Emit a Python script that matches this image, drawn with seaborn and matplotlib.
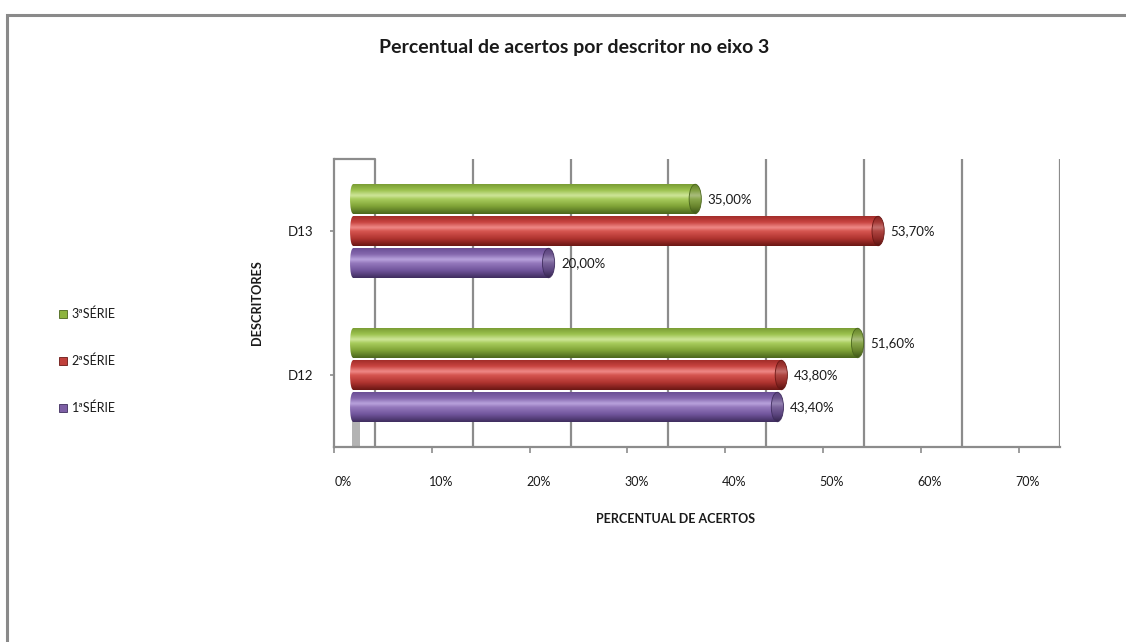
import numpy as np
import pandas as pd
import matplotlib
matplotlib.use("Agg")
import matplotlib.pyplot as plt
import seaborn as sns
from matplotlib.colors import LinearSegmentedColormap, to_rgb
from matplotlib.patches import Ellipse, Patch, Rectangle
from matplotlib.lines import Line2D
from matplotlib.transforms import blended_transform_factory, ScaledTranslation

# ---- data -------------------------------------------------------------
categories = ["D13", "D12"]
series = ["3ªSÉRIE", "2ªSÉRIE", "1ªSÉRIE"]
serie3 = [35.00, 51.60]
serie2 = [53.70, 43.80]
serie1 = [20.00, 43.40]
x_ticks = [0, 10, 20, 30, 40, 50, 60, 70]

title = "Percentual de acertos por descritor no eixo 3"
x_title = "PERCENTUAL DE ACERTOS"
y_title = "DESCRITORES"

# ---- styles -----------------------------------------------------------
base_colors = {"3ªSÉRIE": "#8db43e", "2ªSÉRIE": "#c0403b", "1ªSÉRIE": "#7d5fa5"}
edge_colors = {"3ªSÉRIE": "#4a661c", "2ªSÉRIE": "#6a1714", "1ªSÉRIE": "#3f2d5e"}
cyl_stops = {
    "3ªSÉRIE": ["#7a9d35", "#9cc24e", "#cfe69a", "#a8cc5c", "#7fa236", "#4a661c"],
    "2ªSÉRIE": ["#a22d2a", "#c84440", "#f08a88", "#d65550", "#b03430", "#6a1714"],
    "1ªSÉRIE": ["#6b4f95", "#8467ad", "#b9a3dd", "#9579bd", "#70549b", "#3f2d5e"],
}
stop_pos = [0.0, 0.2, 0.38, 0.5, 0.75, 1.0]
grid_col = "#8c8c8c"
text_col = "#1a1a1a"

# depth offsets of the front axis plane and back wall (in % units)
front = -1.94
back = 2.25

sns.set_style("white")
plt.rcParams["font.family"] = ["Lato", "DejaVu Sans"]

df = pd.DataFrame({
    "descritor": categories * 3,
    "percentual": serie3 + serie2 + serie1,
    "serie": [series[0]] * 2 + [series[1]] * 2 + [series[2]] * 2,
})

W, H = 1126, 642
fig = plt.figure(figsize=(W / 100, H / 100), dpi=100)
fig.patch.set_facecolor("white")
ax = fig.add_axes([334 / W, (H - 447) / H, 726 / W, 288 / H])

sns.barplot(data=df, y="descritor", x="percentual", hue="serie",
            order=categories, hue_order=series, palette=base_colors,
            orient="h", width=0.667, gap=0.08, saturation=1,
            errorbar=None, legend=False, ax=ax)


def cyl_cmap(name, scale=1.0):
    cols = [tuple(min(1, c * scale) for c in to_rgb(h)) for h in cyl_stops[name]]
    return LinearSegmentedColormap.from_list(name, list(zip(stop_pos, cols)))


cap_left = 0.6
cap_right = 1.25
for name, container in zip(series, ax.containers):
    grad = cyl_cmap(name)(np.linspace(0, 1, 96))[:, None, :]
    grad_dark = cyl_cmap(name, 0.82)(np.linspace(0, 1, 96))[:, None, :]
    for rect in container:
        x0, w = rect.get_x(), rect.get_width()
        y0, h = rect.get_y(), rect.get_height()
        yc = y0 + h / 2
        rect.set_edgecolor("none")
        rect.set_zorder(2)
        # body of the cylinder
        im = ax.imshow(grad, extent=(x0, x0 + w, y0 + h, y0), aspect="auto",
                       interpolation="bicubic", zorder=2)
        im.set_clip_path(rect)
        # rounded rear end
        el = Ellipse((x0, yc), cap_left, h, facecolor="none", edgecolor="none", zorder=1.9)
        ax.add_patch(el)
        im = ax.imshow(grad, extent=(x0 - cap_left / 2, x0 + cap_left / 2, y0 + h, y0),
                       aspect="auto", interpolation="bicubic", zorder=1.9)
        im.set_clip_path(el)
        # front cap
        er = Ellipse((x0 + w, yc), cap_right, h, facecolor="none",
                     edgecolor=edge_colors[name], lw=0.6, zorder=2.2)
        ax.add_patch(er)
        im = ax.imshow(grad_dark, extent=(x0 + w - cap_right / 2, x0 + w + cap_right / 2, y0 + h, y0),
                       aspect="auto", interpolation="bicubic", zorder=2.1)
        im.set_clip_path(er)
        # value label
        label = f"{w:.2f}".replace(".", ",") + "%"
        ax.annotate(label, xy=(x0 + w, yc), xytext=(9, 0), textcoords="offset points",
                    ha="left", va="center", fontsize=9.5, color=text_col)

# ---- walls, grid and axes --------------------------------------------
ax.set_xlim(front, 72.3)
ax.set_ylim(1.5, -0.5)
for t in x_ticks:
    ax.axvline(t + back, color=grid_col, lw=1.6, zorder=0.5)

blend = blended_transform_factory(ax.transData, ax.transAxes)
ax.plot([front, back], [1, 1], color=grid_col, lw=1.6, transform=blend, clip_on=False, zorder=0.5)
ax.add_patch(Rectangle((-0.1, 0), 0.8, 0.094, transform=blend, facecolor="#b3b3b3",
                       edgecolor="none", zorder=0.6))

for side in ["top", "right"]:
    ax.spines[side].set_visible(False)
for side in ["left", "bottom"]:
    ax.spines[side].set_color(grid_col)
    ax.spines[side].set_linewidth(1.6)

ax.set_xticks([t + front for t in x_ticks])
ax.set_xticklabels([f"{t}%" for t in x_ticks])
ax.tick_params(axis="x", bottom=True, length=4, width=1.2, color=grid_col, pad=17,
               labelsize=9, labelcolor=text_col)
ax.tick_params(axis="y", left=True, length=3, width=1.2, color=grid_col, pad=12,
               labelsize=9.5, labelcolor=text_col)
shift = ScaledTranslation(9 / 100, 0, fig.dpi_scale_trans)
for lab in ax.get_xticklabels():
    lab.set_transform(lab.get_transform() + shift)
ax.grid(False)

ax.set_xlabel(x_title, fontsize=9, fontweight="bold", color=text_col)
ax.xaxis.set_label_coords((676 - 334) / 726, (447 - 513) / 288)
ax.set_ylabel(y_title, fontsize=9.2, fontweight="bold", color=text_col)
ax.yaxis.set_label_coords((263 - 334) / 726, 0.5)

# ---- title, legend and outer frame -----------------------------------
fig.text(574 / W, 1 - 48 / H, title, ha="center", va="center",
         fontsize=14, fontweight="bold", color=text_col)

handles = [Patch(facecolor=base_colors[s], edgecolor=edge_colors[s], lw=0.6) for s in series]
fig.legend(handles, series, loc="center left", bbox_to_anchor=(59 / W, 1 - 361 / H),
           frameon=False, fontsize=9, handlelength=0.6, handleheight=0.6,
           handletextpad=0.4, labelspacing=2.75, borderpad=0, borderaxespad=0,
           labelcolor=text_col)

fig.add_artist(Line2D([7.5 / W, 7.5 / W, 1.0], [0.0, 1 - 15 / H, 1 - 15 / H],
                      transform=fig.transFigure, color="#8a8a8a", lw=2.2,
                      solid_capstyle="butt", solid_joinstyle="miter"))

fig.savefig("out.png", dpi=100, facecolor="white")
